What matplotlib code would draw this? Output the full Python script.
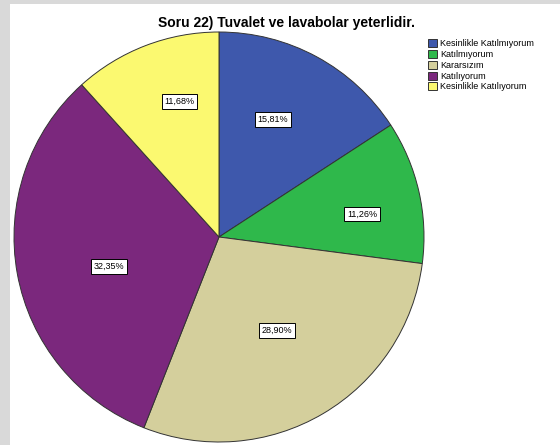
import matplotlib.pyplot as plt
from matplotlib.patches import Rectangle

plt.rcParams['font.family'] = ['Liberation Sans', 'DejaVu Sans']

title = 'Soru 22) Tuvalet ve lavabolar yeterlidir.'
categories = ['Kesinlikle Katılmıyorum', 'Katılmıyorum', 'Kararsızım',
              'Katılıyorum', 'Kesinlikle Katılıyorum']
values = [15.81, 11.26, 28.90, 32.35, 11.68]
colors = ['#3E58AC', '#2FB84B', '#D4CF9C', '#7B287D', '#FBF970']

# where the percent boxes sit (pie radius = 1)
label_pos = [(0.263, 0.573), (0.698, 0.112), (0.283, -0.456),
             (-0.537, -0.144), (-0.193, 0.661)]

W, H = 560, 445
fig = plt.figure(figsize=(W / 100, H / 100), dpi=100)
fig.patch.set_facecolor('white')

# gray frame strips (left and top)
fig.add_artist(Rectangle((0, 0), 10 / W, 1, transform=fig.transFigure,
                         facecolor='#D9D9D9', edgecolor='none'))
fig.add_artist(Rectangle((0, 1 - 4 / H), 1, 4 / H, transform=fig.transFigure,
                         facecolor='#D9D9D9', edgecolor='none'))

ax = fig.add_axes([14 / W, 3 / H, 410 / W, 410 / H])
wedges, texts = ax.pie(values, colors=colors, startangle=90, counterclock=False,
                       radius=1,
                       wedgeprops=dict(edgecolor='#333333', linewidth=0.7))

for v, (x, y) in zip(values, label_pos):
    ax.text(x, y, ('%.2f%%' % v).replace('.', ','), ha='center', va='center',
            fontsize=6.5,
            bbox=dict(boxstyle='square,pad=0.3', facecolor='white',
                      edgecolor='black', linewidth=0.7))

ax.set_xlim(-1, 1)
ax.set_ylim(-1, 1)
ax.axis('off')

fig.text(287 / W, 1 - 23 / H, title, ha='center', va='center',
         fontsize=10, fontweight='bold')

leg = fig.legend(wedges, categories, loc='upper left',
                 bbox_to_anchor=(422 / W, 1 - 33 / H), frameon=False,
                 fontsize=6.5, handlelength=1.0, handleheight=1.0,
                 handletextpad=0.3, labelspacing=0.18, borderpad=0.2)
for h in leg.legend_handles:
    h.set_edgecolor('#333333')
    h.set_linewidth(0.7)

fig.savefig('out.png', dpi=100)
